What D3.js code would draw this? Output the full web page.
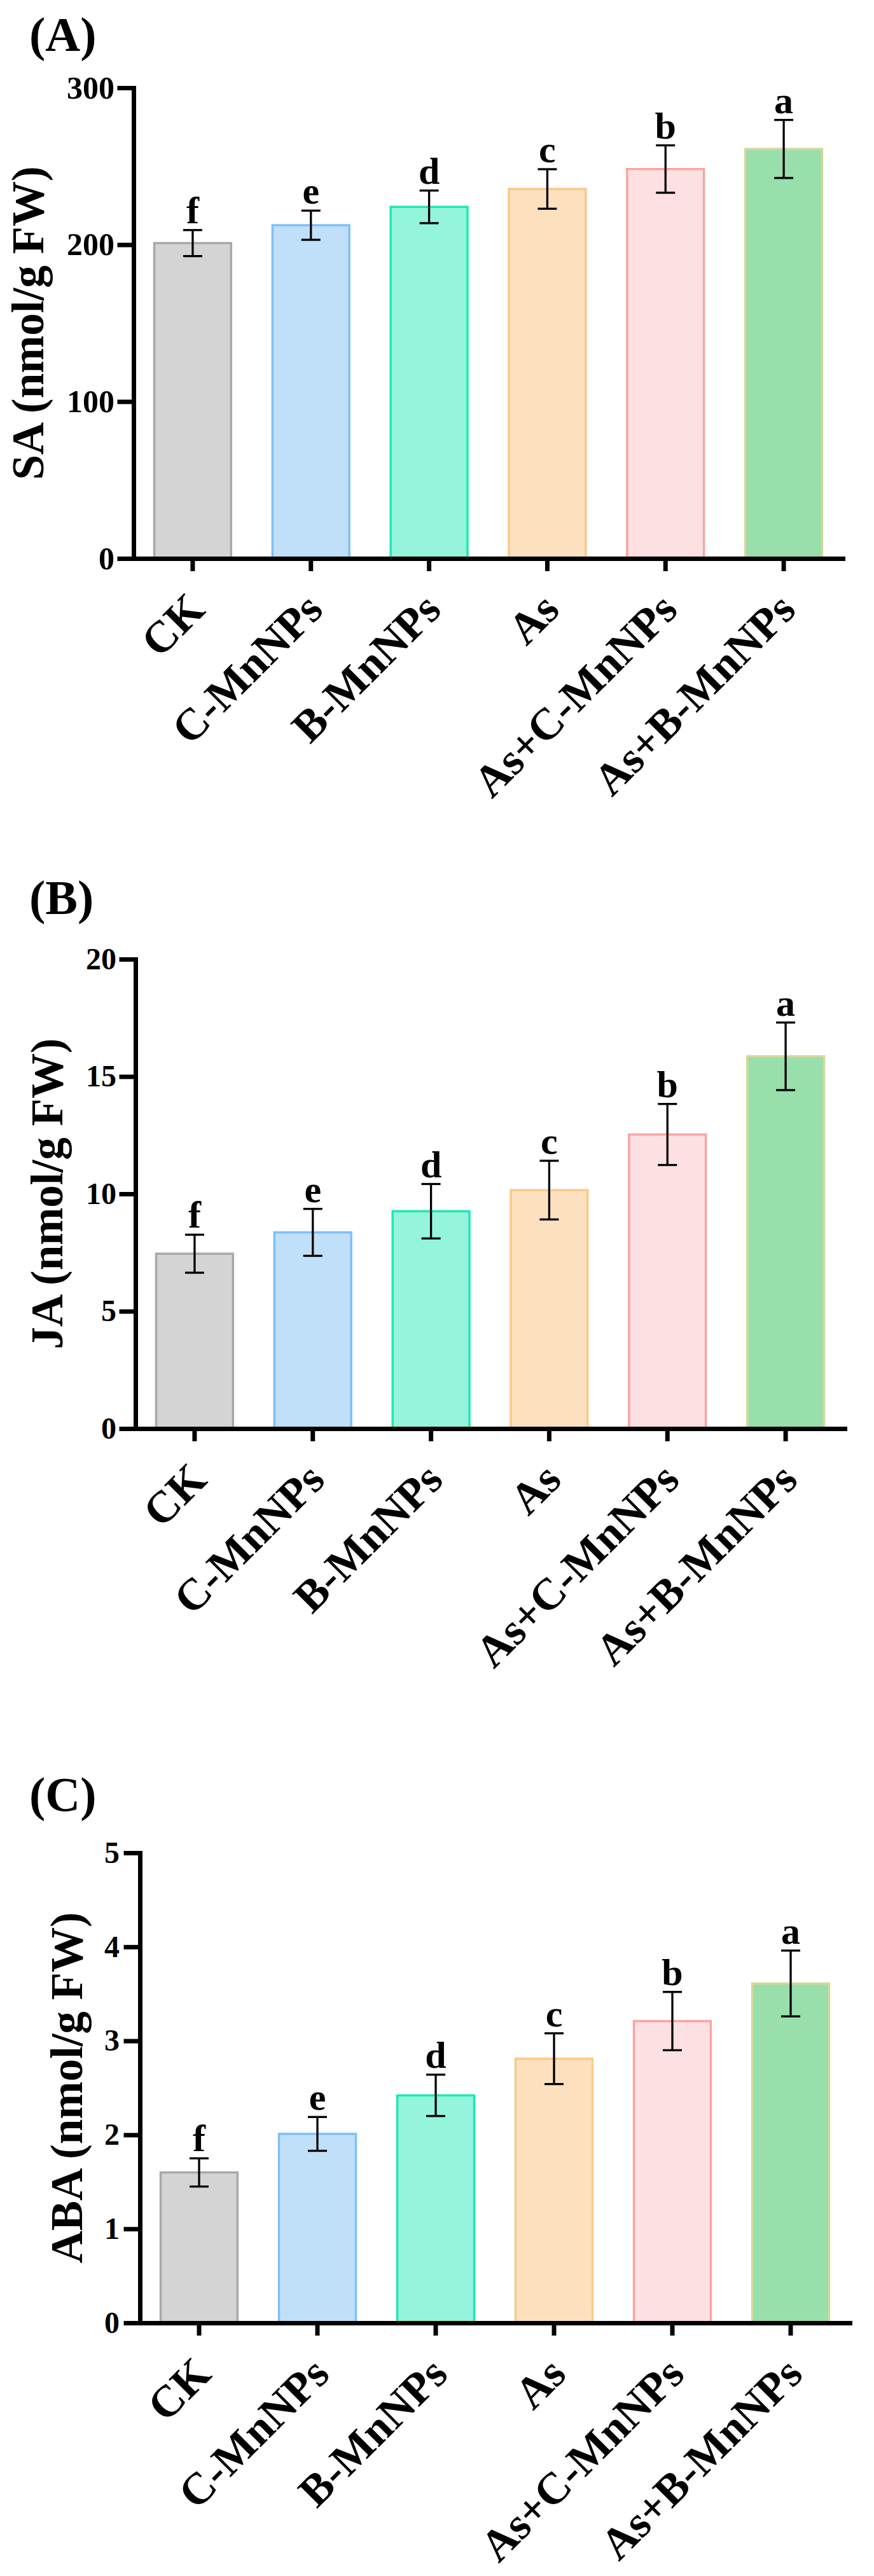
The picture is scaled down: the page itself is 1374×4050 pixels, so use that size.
<!DOCTYPE html>
<html>
<head>
<meta charset="utf-8">
<script src="https://cdn.jsdelivr.net/npm/d3@7"></script>
<style>
  body { margin: 0; background: #fff; }
  text { font-family: "Liberation Serif", "Times New Roman", serif; font-weight: bold; }
</style>
</head>
<body>
<div id="chart"></div>
<script>
// groups and letters shared by all three panels
var groups = ["CK", "C-MnNPs", "B-MnNPs", "As", "As+C-MnNPs", "As+B-MnNPs"];
var letters = ["f", "e", "d", "c", "b", "a"];

var saValues = [201, 212.4, 224.1, 235.5, 248.2, 261];
var saErrors = [8.3, 9.3, 10.4, 12.6, 15.1, 18.5];
var saTicks = [0, 100, 200, 300];

var jaValues = [7.45, 8.36, 9.26, 10.16, 12.53, 15.86];
var jaErrors = [0.81, 1.0, 1.16, 1.25, 1.3, 1.44];
var jaTicks = [0, 5, 10, 15, 20];

var abaValues = [1.6, 2.01, 2.42, 2.81, 3.21, 3.61];
var abaErrors = [0.15, 0.18, 0.22, 0.27, 0.31, 0.35];
var abaTicks = [0, 1, 2, 3, 4, 5];

var fillColors = ["#d4d4d4", "#c0dff8", "#94f5dc", "#fde1bf", "#fde0e1", "#98dfab"];
var strokeColors = ["#a8a8ac", "#7ec0f5", "#1ee8b4", "#fbc88a", "#f8a5a3", "#d9d69a"];

var svg = d3.select("#chart")
    .append("svg")
    .attr("width", 1374)
    .attr("height", 4050);

// one panel per hormone
var panels = [
    { tag: "(A)", title: "SA (nmol/g FW)", values: saValues, errors: saErrors, ticks: saTicks,
      left: 210, right: 1325, top: 138, bottom: 878, titleX: 68, tagY: 80, tickFont: 50, tickPad: 8 },
    { tag: "(B)", title: "JA (nmol/g FW)", values: jaValues, errors: jaErrors, ticks: jaTicks,
      left: 213, right: 1328, top: 1508, bottom: 2246, titleX: 98, tagY: 1437, tickFont: 48, tickPad: 8 },
    { tag: "(C)", title: "ABA (nmol/g FW)", values: abaValues, errors: abaErrors, ticks: abaTicks,
      left: 220, right: 1336, top: 2913, bottom: 3652, titleX: 129, tagY: 2847, tickFont: 48, tickPad: 10 }
];

panels.forEach(function (p) {
    var g = svg.append("g");

    var x = d3.scaleBand()
        .domain(groups)
        .range([p.left, p.right])
        .paddingInner(0.35)
        .paddingOuter(0.175);

    var y = d3.scaleLinear()
        .domain([p.ticks[0], p.ticks[p.ticks.length - 1]])
        .range([p.bottom, p.top]);

    var rows = groups.map(function (name, i) {
        return { name: name, v: p.values[i], e: p.errors[i], letter: letters[i], i: i };
    });

    // bars
    g.selectAll(".bar")
        .data(rows)
        .enter()
        .append("rect")
        .attr("x", function (d) { return x(d.name); })
        .attr("y", function (d) { return y(d.v); })
        .attr("width", x.bandwidth())
        .attr("height", function (d) { return y(0) - y(d.v); })
        .attr("fill", function (d) { return fillColors[d.i]; })
        .attr("stroke", function (d) { return strokeColors[d.i]; })
        .attr("stroke-width", 3.5);

    // error bars
    var eb = g.selectAll(".err")
        .data(rows)
        .enter()
        .append("g")
        .attr("transform", function (d) { return "translate(" + (x(d.name) + x.bandwidth() / 2) + ",0)"; })
        .attr("stroke", "#000")
        .attr("stroke-width", 3.3);
    eb.append("line")
        .attr("y1", function (d) { return y(d.v - d.e); })
        .attr("y2", function (d) { return y(d.v + d.e); });
    eb.append("line")
        .attr("x1", -15).attr("x2", 15)
        .attr("y1", function (d) { return y(d.v + d.e); })
        .attr("y2", function (d) { return y(d.v + d.e); });
    eb.append("line")
        .attr("x1", -15).attr("x2", 15)
        .attr("y1", function (d) { return y(d.v - d.e); })
        .attr("y2", function (d) { return y(d.v - d.e); });

    // significance letters
    g.selectAll(".letter")
        .data(rows)
        .enter()
        .append("text")
        .attr("x", function (d) { return x(d.name) + x.bandwidth() / 2; })
        .attr("y", function (d) { return y(d.v + d.e) - 11; })
        .attr("text-anchor", "middle")
        .style("font-size", "60px")
        .text(function (d) { return d.letter; });

    // Y axis
    var yAxis = g.append("g")
        .attr("transform", "translate(" + p.left + ",0)")
        .call(d3.axisLeft(y)
            .tickValues(p.ticks)
            .tickFormat(d3.format("d"))
            .tickSize(22)
            .tickSizeOuter(0)
            .tickPadding(p.tickPad));
    yAxis.selectAll("line, path")
        .attr("stroke", "#000")
        .attr("stroke-width", 7)
        .attr("stroke-linecap", "square");
    yAxis.selectAll("text")
        .attr("font-family", null)
        .attr("fill", "#000")
        .style("font-size", p.tickFont + "px");

    // X axis
    var xAxis = g.append("g")
        .attr("transform", "translate(0," + p.bottom + ")")
        .call(d3.axisBottom(x).tickSize(20).tickSizeOuter(0));
    xAxis.select("path")
        .attr("stroke", "#000")
        .attr("stroke-width", 7)
        .attr("stroke-linecap", "square");
    xAxis.selectAll("line")
        .attr("stroke", "#000")
        .attr("stroke-width", 7);
    xAxis.selectAll("text")
        .attr("font-family", null)
        .attr("fill", "#000")
        .attr("x", 0)
        .attr("y", 0)
        .attr("dy", null)
        .attr("text-anchor", "end")
        .attr("transform", "translate(22,84) rotate(-45)")
        .style("font-size", "70px");

    // Y axis title
    g.append("text")
        .attr("transform", "translate(" + p.titleX + "," + ((p.top + p.bottom) / 2) + ") rotate(-90)")
        .attr("text-anchor", "middle")
        .style("font-size", "71px")
        .text(p.title);

    // panel tag
    g.append("text")
        .attr("x", 46)
        .attr("y", p.tagY)
        .style("font-size", "76px")
        .text(p.tag);
});
</script>
</body>
</html>
